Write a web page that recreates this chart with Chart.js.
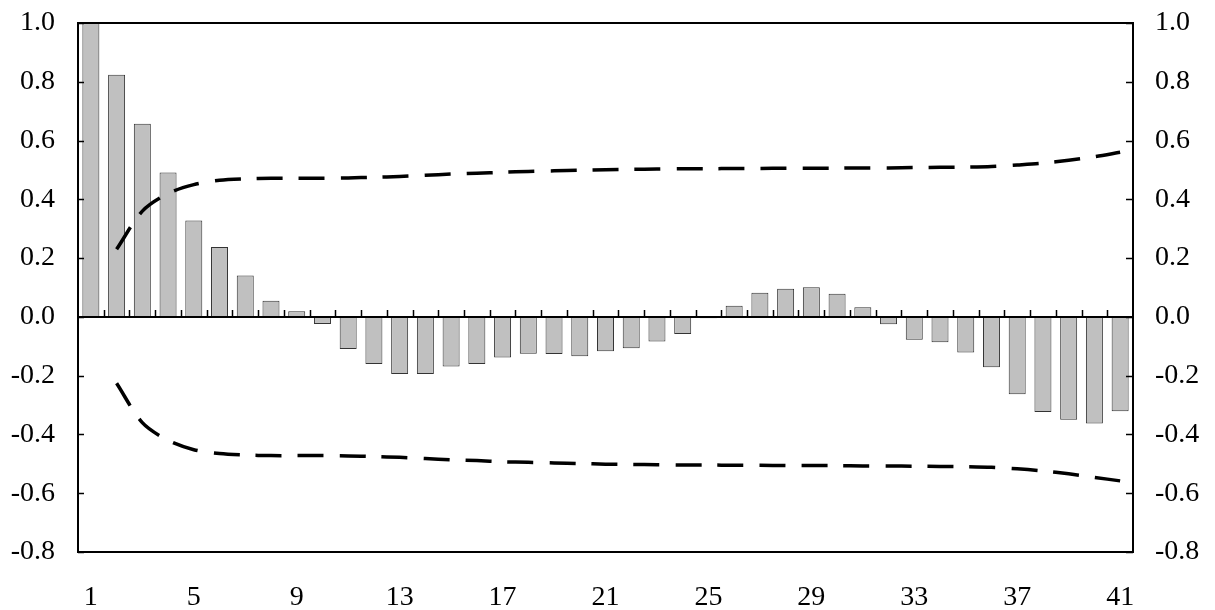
<!DOCTYPE html>
<html>
<head>
<meta charset="utf-8">
<script src="https://cdn.jsdelivr.net/npm/chart.js@4"></script>
<style>
    body { margin: 0; background: #fff; }
    #acfChart { display: block; }
</style>
</head>
<body>
<canvas id="acfChart" width="1215" height="610"></canvas>
<script>
// Lags 1..41
const lags = Array.from({ length: 41 }, (_, i) => String(i + 1));

// Autocorrelation values
const acfValues = [
    1.000, 0.824, 0.657, 0.491, 0.328, 0.238, 0.141, 0.055, 0.019, -0.024,
    -0.109, -0.160, -0.194, -0.194, -0.169, -0.160, -0.138, -0.125, -0.126, -0.134,
    -0.117, -0.107, -0.084, -0.058, -0.005, 0.038, 0.082, 0.096, 0.101, 0.079,
    0.033, -0.025, -0.078, -0.086, -0.121, -0.171, -0.263, -0.324, -0.350, -0.363,
    -0.321
];

// Confidence bands (no value at lag 1)
const upperBand = [
    null, 0.230, 0.360, 0.420, 0.450, 0.465, 0.470, 0.472, 0.472, 0.472,
    0.473, 0.475, 0.478, 0.482, 0.486, 0.489, 0.492, 0.495, 0.497, 0.499,
    0.501, 0.502, 0.503, 0.504, 0.504, 0.505, 0.505, 0.506, 0.506, 0.506,
    0.507, 0.507, 0.508, 0.509, 0.510, 0.512, 0.517, 0.523, 0.533, 0.545,
    0.560
];
const lowerBand = [
    null, -0.226, -0.360, -0.420, -0.452, -0.465, -0.470, -0.472, -0.472, -0.472,
    -0.473, -0.475, -0.478, -0.482, -0.486, -0.489, -0.493, -0.495, -0.497, -0.499,
    -0.501, -0.502, -0.503, -0.504, -0.504, -0.505, -0.505, -0.506, -0.506, -0.506,
    -0.507, -0.507, -0.508, -0.509, -0.510, -0.512, -0.517, -0.524, -0.534, -0.546,
    -0.558
];

const yMin = -0.8;
const yMax = 1.0;
const yStep = 0.2;

// Draws the box, the zero line with its small ticks and the inward y ticks
const framePlugin = {
    id: 'frame',
    afterDatasetsDraw(chart) {
        const ctx = chart.ctx;
        const area = chart.chartArea;
        const x = chart.scales.x;
        const y = chart.scales.y;
        const zeroY = Math.round(y.getPixelForValue(0));

        ctx.save();
        ctx.strokeStyle = '#000';

        // small ticks between categories on the zero line
        ctx.lineWidth = 1.5;
        ctx.beginPath();
        for (let i = 1; i < lags.length; i++) {
            const bx = Math.round((x.getPixelForTick(i - 1) + x.getPixelForTick(i)) / 2) + 0.5;
            ctx.moveTo(bx, zeroY);
            ctx.lineTo(bx, zeroY - 7);
        }
        ctx.stroke();

        // inward ticks on left and right axes
        ctx.beginPath();
        y.ticks.forEach(t => {
            const ty = Math.round(y.getPixelForValue(t.value)) + 0.5;
            ctx.moveTo(area.left, ty);
            ctx.lineTo(area.left + 6, ty);
            ctx.moveTo(area.right, ty);
            ctx.lineTo(area.right - 7, ty);
        });
        ctx.stroke();

        // zero line
        ctx.lineWidth = 2;
        ctx.beginPath();
        ctx.moveTo(area.left, zeroY);
        ctx.lineTo(area.right, zeroY);
        ctx.stroke();

        // frame
        ctx.strokeRect(area.left, area.top, area.right - area.left, area.bottom - area.top);
        ctx.restore();
    }
};

const tickFont = { family: "'Liberation Serif', 'Times New Roman', serif", size: 28 };

// fixed axis sizes so the plot box lands where the reference has it
function fitY(width) {
    return scale => {
        scale.width = width;
        scale.paddingTop = 0;
        scale.paddingBottom = 0;
    };
}

new Chart(document.getElementById('acfChart').getContext('2d'), {
    data: {
        labels: lags,
        datasets: [
            {
                type: 'line',
                data: upperBand,
                borderColor: '#000',
                borderWidth: 3.5,
                borderDash: [26, 16],
                pointRadius: 0,
                tension: 0.3,
                fill: false,
                order: 1
            },
            {
                type: 'line',
                data: lowerBand,
                borderColor: '#000',
                borderWidth: 3.5,
                borderDash: [26, 16],
                pointRadius: 0,
                tension: 0.3,
                fill: false,
                order: 1
            },
            {
                type: 'bar',
                data: acfValues,
                backgroundColor: '#c0c0c0',
                borderColor: '#333',
                borderWidth: 1,
                barPercentage: 0.66,
                categoryPercentage: 1.0,
                order: 2
            }
        ]
    },
    options: {
        responsive: false,
        animation: false,
        layout: { padding: { top: 23, left: 0, right: 0, bottom: 0 } },
        scales: {
            x: {
                type: 'category',
                offset: true,
                grid: { display: false, drawTicks: false },
                border: { display: false },
                ticks: {
                    autoSkip: false,
                    maxRotation: 0,
                    padding: 29,
                    color: '#000',
                    font: tickFont,
                    callback: (val, index) => (index % 4 === 0 ? lags[index] : '')
                },
                afterFit: scale => {
                    scale.height = 58;
                    scale.paddingLeft = 0;
                    scale.paddingRight = 0;
                }
            },
            y: {
                position: 'left',
                min: yMin,
                max: yMax,
                grid: { display: false, drawTicks: false },
                border: { display: false },
                ticks: {
                    stepSize: yStep,
                    padding: 23,
                    color: '#000',
                    font: tickFont,
                    callback: v => v.toFixed(1)
                },
                afterFit: fitY(78)
            },
            y2: {
                position: 'right',
                min: yMin,
                max: yMax,
                grid: { display: false, drawTicks: false },
                border: { display: false },
                ticks: {
                    stepSize: yStep,
                    padding: 22,
                    color: '#000',
                    font: tickFont,
                    callback: v => v.toFixed(1)
                },
                afterFit: fitY(82)
            }
        },
        plugins: {
            legend: { display: false },
            tooltip: { enabled: false },
            title: { display: false }
        }
    },
    plugins: [framePlugin]
});
</script>
</body>
</html>
